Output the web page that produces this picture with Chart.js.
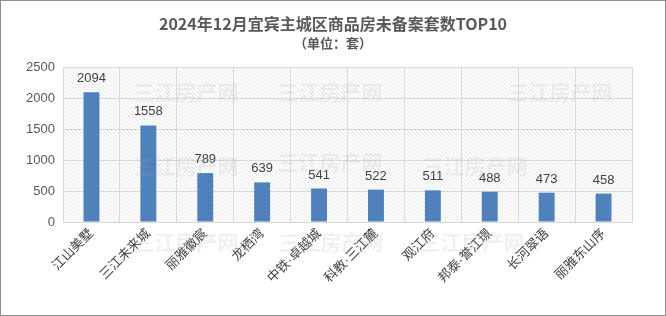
<!DOCTYPE html>
<html>
<head>
<meta charset="utf-8">
<script src="https://cdn.jsdelivr.net/npm/chart.js@4"></script>
<style>
body { margin: 0; background: #fff; }
canvas { display: block; }
</style>
</head>
<body>
<canvas id="c" width="666" height="316"></canvas>
<script>
// data
const categories = ['江山美墅', '三江未来城', '丽雅徽宸', '龙栖湾', '中铁·卓越城', '科教·三江麓', '观江府', '邦泰·誉江璟', '长河翠语', '丽雅东山序'];
const values = [2094, 1558, 789, 639, 541, 522, 511, 488, 473, 458];
const yTicks = [0, 500, 1000, 1500, 2000, 2500];

const FONT = '"Noto Sans CJK SC", "Noto Sans", sans-serif';
const LFONT = '"Liberation Sans", "Noto Sans CJK SC", sans-serif';

// hatched plot background, title, value labels, watermark, frame
const decor = {
	id: 'decor',
	beforeDraw(chart) {
		const ctx = chart.ctx;
		const a = chart.chartArea;
		ctx.save();
		ctx.fillStyle = '#fff';
		ctx.fillRect(0, 0, chart.width, chart.height);
		ctx.beginPath();
		ctx.rect(a.left, a.top, a.right - a.left, a.bottom - a.top);
		ctx.clip();
		ctx.strokeStyle = '#e6e6e6';
		ctx.lineWidth = 1;
		const h = a.bottom - a.top;
		for (let x = a.left - h; x < a.right; x += 4) {
			ctx.beginPath();
			ctx.moveTo(x, a.top);
			ctx.lineTo(x + h, a.bottom);
			ctx.stroke();
		}
		ctx.restore();
	},
	afterDatasetsDraw(chart) {
		const ctx = chart.ctx;
		const meta = chart.getDatasetMeta(0);
		ctx.save();
		ctx.fillStyle = '#404040';
		ctx.font = '13px ' + LFONT;
		ctx.textAlign = 'center';
		ctx.textBaseline = 'bottom';
		meta.data.forEach((bar, i) => {
			ctx.fillText(String(values[i]), bar.x, bar.y - 7);
		});
		ctx.restore();
	},
	afterDraw(chart) {
		const ctx = chart.ctx;
		ctx.save();
		// watermark
		ctx.fillStyle = 'rgba(170,170,170,0.18)';
		ctx.font = 'bold 21px ' + FONT;
		ctx.textAlign = 'center';
		ctx.textBaseline = 'middle';
		const marks = [[186, 92], [330, 92], [560, 92], [186, 166], [330, 162], [475, 166], [186, 242], [331, 242], [472, 242]];
		marks.forEach(m => ctx.fillText('三江房产网', m[0], m[1]));
		// title
		ctx.fillStyle = '#595959';
		ctx.font = 'bold 16px ' + FONT;
		ctx.fillText('2024年12月宜宾主城区商品房未备案套数TOP10', 333, 24);
		ctx.font = 'bold 13px ' + FONT;
		ctx.fillText('（单位：套）', 333, 43);
		// frame
		ctx.strokeStyle = '#8c8c8c';
		ctx.lineWidth = 1;
		ctx.strokeRect(0.5, 0.5, chart.width - 1, chart.height - 1);
		ctx.restore();
	}
};

const ctx = document.getElementById('c').getContext('2d');
new Chart(ctx, {
	type: 'bar',
	data: {
		labels: categories,
		datasets: [{
			data: values,
			backgroundColor: '#4f81bd',
			categoryPercentage: 1,
			barPercentage: 0.28
		}]
	},
	options: {
		responsive: false,
		animation: false,
		layout: { padding: { top: 67, right: 34, left: 0, bottom: 0 } },
		plugins: {
			legend: { display: false },
			title: { display: false },
			tooltip: { enabled: false }
		},
		scales: {
			y: {
				min: 0,
				max: 2500,
				afterBuildTicks: axis => { axis.ticks = yTicks.map(v => ({ value: v })); },
				afterFit: axis => { axis.width = 63; },
				ticks: { color: '#595959', font: { size: 13, family: LFONT }, padding: 8, callback: v => String(v) },
				grid: { color: '#d9d9d9', drawTicks: false },
				border: { color: '#d9d9d9' }
			},
			x: {
				afterFit: axis => { axis.height = 94; },
				ticks: { color: '#404040', font: { size: 13, family: LFONT }, minRotation: 45, maxRotation: 45, autoSkip: false, padding: 4 },
				grid: { color: '#d9d9d9', offset: true, drawTicks: false },
				border: { color: '#d9d9d9' }
			}
		}
	},
	plugins: [decor]
});
</script>
</body>
</html>
